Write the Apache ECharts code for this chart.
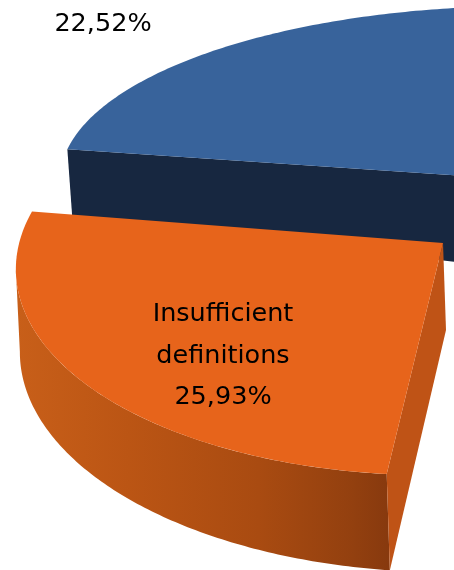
<!DOCTYPE html>
<html>
<head>
<meta charset="utf-8">
<style>html,body{margin:0;padding:0;background:#fff}#c{width:454px;height:570px}</style>
<script src="https://cdn.jsdelivr.net/npm/echarts@6/dist/echarts.min.js"></script>
</head>
<body>
<div id="c"></div>
<script>
const categories = ['', 'Insufficient\ndefinitions'];
const shares = [22.52, 25.93];

// Screen angle (deg, clockwise from +x) of the boundary between the two slices.
const BOUNDARY = 190.2;
const layouts = [
  { top:{cx:525,cy:180,rx:465,ry:174,k:0,shear:0}, bottom:{cx:525,cy:270,rx:460,ry:296,k:0,shear:0},
    face:'#38639b', label:{x:103,y:24} },
  { top:{cx:443,cy:243,rx:425,ry:209,k:0.1,shear:-0.012}, bottom:{cx:446,cy:330,rx:424,ry:218,k:0.1,shear:0},
    face:'#e7641b', cut:'#bf5316', label:{x:223,y:314} }
];
const WALL_STOPS = [
  {offset:0,color:'#c85f19'},{offset:0.3,color:'#bb5514'},
  {offset:0.65,color:'#a94b11'},{offset:0.9,color:'#93400f'},{offset:1,color:'#87390e'}
];

function pt(e, deg){
  const t = deg*Math.PI/180, s = 1/(1-e.k*Math.sin(t));
  const dx = e.rx*Math.cos(t)*s;
  return [e.cx+dx, e.cy+e.ry*Math.sin(t)*s+e.shear*dx];
}
function arc(e, a, b){
  const out=[], n=120;
  for(let i=0;i<=n;i++) out.push(pt(e,a+(b-a)*i/n));
  return out;
}
function fmt(v){ return v.toFixed(2).replace('.',',')+'%'; }

const chart = echarts.init(document.getElementById('c'), null, {renderer:'canvas'});
chart.setOption({
  animation:false,
  backgroundColor:'#fff',
  series:[{
    type:'custom',
    coordinateSystem:'none',
    silent:true,
    clip:false,
    data:shares.map((v,i)=>({name:categories[i],value:[v]})),
    renderItem(params, api){
      const i = params.dataIndex, L = layouts[i], sweep = api.value(0)*3.6;
      const a = i===0 ? BOUNDARY : BOUNDARY-sweep;
      const b = i===0 ? BOUNDARY+sweep : BOUNDARY;
      const topC=[L.top.cx,L.top.cy], botC=[L.bottom.cx,L.bottom.cy];
      const children=[];
      if(i===0){
        // only the front radial cut of this slice is visible
        children.push({type:'polygon',shape:{points:[pt(L.top,a),topC,botC,pt(L.bottom,a)]},
          style:{fill:'#172740'}});
      } else {
        // outer wall: from the leftmost point of the rim down to the lower rim
        let left=a;
        for(let d=a;d<=b;d+=0.25){ if(pt(L.top,d)[0]<pt(L.top,left)[0]) left=d; }
        children.push({type:'polygon',
          shape:{points:arc(L.top,a,left).concat(arc(L.bottom,left,a))},
          style:{fill:{type:'linear',x:0,y:0,x2:1,y2:0,colorStops:WALL_STOPS}}});
        children.push({type:'polygon',shape:{points:[topC,botC,pt(L.bottom,a),pt(L.top,a)]},
          style:{fill:L.cut}});
      }
      children.push({type:'polygon',shape:{points:[topC].concat(arc(L.top,a,b))},
        style:{fill:L.face}});
      const name = categories[i];
      children.push({type:'text',
        style:{x:L.label.x,y:L.label.y,
          text:(name?name+'\n':'')+fmt(api.value(0)),
          align:'center',verticalAlign:name?'top':'middle',
          font:'25.5px "DejaVu Sans"',lineHeight:41.5,fill:'#000'},
        y:name?-20:0});
      return {type:'group',children};
    }
  }]
});
</script>
</body>
</html>
